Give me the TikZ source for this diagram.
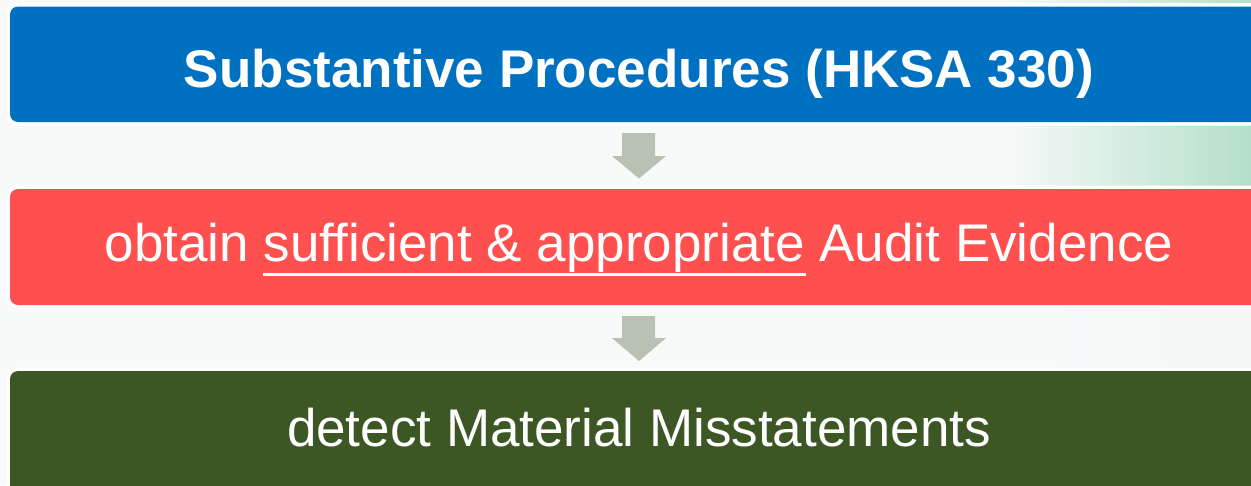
\documentclass[tikz,border=0pt]{standalone}
\usepackage{fontspec}
\setmainfont{Liberation Sans}
\usetikzlibrary{calc}
\definecolor{bg}{HTML}{F8FAFA}
\definecolor{mint}{HTML}{B4E0C9}
\definecolor{boxblue}{HTML}{0070C0}
\definecolor{boxred}{HTML}{FF5050}
\definecolor{boxgreen}{HTML}{3C5724}
\definecolor{arrowgray}{HTML}{B9C1B3}
\tikzset{
  halo/.style={fill=white, rounded corners=11pt},
  stepbox/.style={rounded corners=8pt},
  label/.style={text=white, anchor=base, inner sep=0pt, font=\fontsize{53}{60}\selectfont},
  downarrow/.style={fill=arrowgray, draw=none},
}
\begin{document}
\begin{tikzpicture}[x=1pt,y=-1pt]
\useasboundingbox (0,0) rectangle (1251,485);
\clip (0,0) rectangle (1251,485);
% background
\fill[bg] (0,0) rectangle (1251,485);
\shade[left color=bg, right color=mint] (1000,0) rectangle (1251,190);
\shade[left color=bg, right color=bg!92!mint] (1000,305) rectangle (1251,372);
% boxes
\fill[halo] (6.5,3) rectangle (1270,125.5);
\fill[boxblue, stepbox] (10,6.5) rectangle (1270,122);
\fill[halo] (6.5,185.5) rectangle (1270,308.5);
\fill[boxred, stepbox] (10,189) rectangle (1270,305);
\fill[halo] (6.5,367.5) rectangle (1270,510);
\fill[boxgreen, stepbox] (10,371) rectangle (1270,510);
% texts
\node[label, font=\fontsize{53}{60}\selectfont\bfseries] (t1) at (639,87.5) {Substantive Procedures (HKSA 330)};
\node[label] (t2) at (639,261.5) {obtain sufficient \& appropriate Audit Evidence};
\node[label] (t3) at (639,446.5) {detect Material Misstatements};
\draw[white, line width=2.4pt] (263,274.5) -- (806,274.5);
% arrows
\path[downarrow] (622,133) -- (655,133) -- (655,156) -- (666,156) -- (639,178.5) -- (612,156) -- (622,156) -- cycle;
\path[downarrow] (622,316) -- (655,316) -- (655,338) -- (666,338) -- (639,361) -- (612,338) -- (622,338) -- cycle;
\end{tikzpicture}
\end{document}
